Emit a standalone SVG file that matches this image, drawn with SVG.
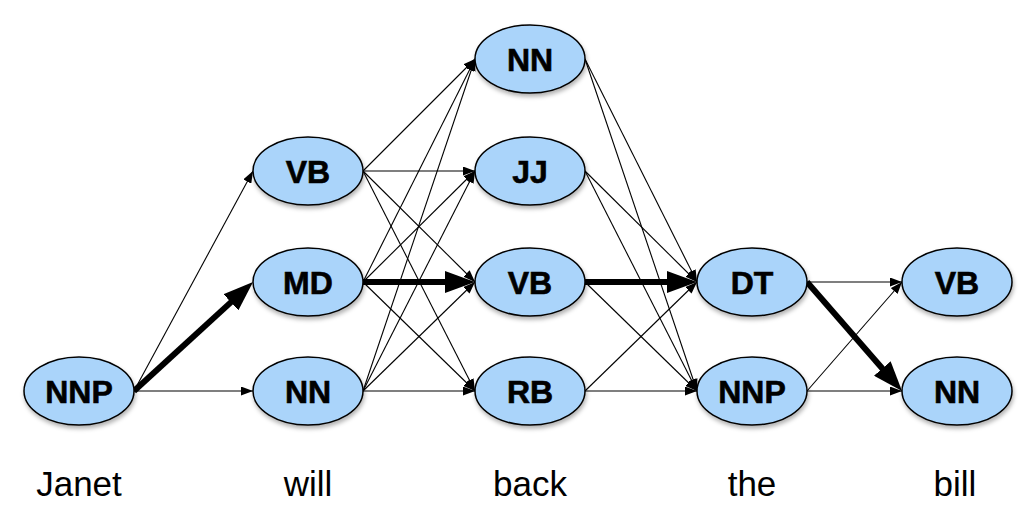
<svg xmlns="http://www.w3.org/2000/svg" width="1028" height="518" viewBox="0 0 1028 518">
  <style>
    .node ellipse { fill: #aad4fa; stroke: #000; stroke-width: 1.5; filter: url(#shadow); }
    .node text { font-family: "Liberation Sans", Arial, sans-serif; font-weight: bold; font-size: 32px; text-anchor: middle; fill: #000; stroke: #000; stroke-width: 0.6; }
    .edge { stroke: #000; stroke-width: 1.1; fill: none; marker-end: url(#head); }
    .best { stroke: #000; stroke-width: 6; fill: none; marker-end: url(#bighead); }
    .word { font-family: "Liberation Sans", Arial, sans-serif; font-size: 35px; text-anchor: middle; fill: #000; }
  </style>
  <defs>
    <filter id="shadow" x="-20%" y="-20%" width="140%" height="150%">
      <feDropShadow dx="1" dy="3" stdDeviation="2" flood-color="#000" flood-opacity="0.3"/>
    </filter>
    <marker id="head" markerUnits="userSpaceOnUse" markerWidth="12" markerHeight="9" refX="12" refY="4.5" orient="auto">
      <path d="M0,0 L12,4.5 L0,9 z" fill="#000"/>
    </marker>
    <marker id="bighead" markerUnits="userSpaceOnUse" markerWidth="30" markerHeight="22" refX="5" refY="11" orient="auto">
      <path d="M0,0 L30,11 L0,22 z" fill="#000"/>
    </marker>
  </defs>

  <rect width="1028" height="518" fill="#fff"/>

  <g id="connectors">
    <!-- Janet -> will -->
    <line class="edge" x1="134" y1="391" x2="253" y2="171"/>
    <line class="best" x1="134" y1="391" x2="234.6" y2="298.9"/>
    <line class="edge" x1="134" y1="391" x2="253" y2="391"/>
    <!-- will -> back -->
    <line class="edge" x1="363" y1="171" x2="475" y2="59"/>
    <line class="edge" x1="363" y1="171" x2="475" y2="171"/>
    <line class="edge" x1="363" y1="171" x2="475" y2="282"/>
    <line class="edge" x1="363" y1="171" x2="475" y2="391"/>
    <line class="edge" x1="363" y1="282" x2="475" y2="59"/>
    <line class="edge" x1="363" y1="282" x2="475" y2="171"/>
    <line class="best" x1="363" y1="282" x2="450" y2="282"/>
    <line class="edge" x1="363" y1="282" x2="475" y2="391"/>
    <line class="edge" x1="363" y1="391" x2="475" y2="59"/>
    <line class="edge" x1="363" y1="391" x2="475" y2="171"/>
    <line class="edge" x1="363" y1="391" x2="475" y2="282"/>
    <line class="edge" x1="363" y1="391" x2="475" y2="391"/>
    <!-- back -> the -->
    <line class="edge" x1="585" y1="59" x2="697" y2="282"/>
    <line class="edge" x1="585" y1="59" x2="697" y2="391"/>
    <line class="edge" x1="585" y1="171" x2="697" y2="282"/>
    <line class="edge" x1="585" y1="171" x2="697" y2="391"/>
    <line class="best" x1="585" y1="282" x2="672" y2="282"/>
    <line class="edge" x1="585" y1="282" x2="697" y2="391"/>
    <line class="edge" x1="585" y1="391" x2="697" y2="282"/>
    <line class="edge" x1="585" y1="391" x2="697" y2="391"/>
    <!-- the -> bill -->
    <line class="edge" x1="807" y1="282" x2="902" y2="282"/>
    <line class="best" x1="807" y1="282" x2="885.6" y2="372.2"/>
    <line class="edge" x1="807" y1="391" x2="902" y2="282"/>
    <line class="edge" x1="807" y1="391" x2="902" y2="391"/>
  </g>

  <g id="janet-nnp" class="node"><ellipse cx="79" cy="391" rx="55" ry="34"/><text x="79" y="403">NNP</text></g>

  <g id="will-vb" class="node"><ellipse cx="308" cy="171" rx="55" ry="34"/><text x="308" y="183">VB</text></g>
  <g id="will-md" class="node"><ellipse cx="308" cy="282" rx="55" ry="34"/><text x="308" y="294">MD</text></g>
  <g id="will-nn" class="node"><ellipse cx="308" cy="391" rx="55" ry="34"/><text x="308" y="403">NN</text></g>

  <g id="back-nn" class="node"><ellipse cx="530" cy="59" rx="55" ry="34"/><text x="530" y="71">NN</text></g>
  <g id="back-jj" class="node"><ellipse cx="530" cy="171" rx="55" ry="34"/><text x="530" y="183">JJ</text></g>
  <g id="back-vb" class="node"><ellipse cx="530" cy="282" rx="55" ry="34"/><text x="530" y="294">VB</text></g>
  <g id="back-rb" class="node"><ellipse cx="530" cy="391" rx="55" ry="34"/><text x="530" y="403">RB</text></g>

  <g id="the-dt" class="node"><ellipse cx="752" cy="282" rx="55" ry="34"/><text x="752" y="294">DT</text></g>
  <g id="the-nnp" class="node"><ellipse cx="752" cy="391" rx="55" ry="34"/><text x="752" y="403">NNP</text></g>

  <g id="bill-vb" class="node"><ellipse cx="957" cy="282" rx="55" ry="34"/><text x="957" y="294">VB</text></g>
  <g id="bill-nn" class="node"><ellipse cx="957" cy="391" rx="55" ry="34"/><text x="957" y="403">NN</text></g>

  <g id="words">
    <text class="word" x="79" y="496">Janet</text>
    <text class="word" x="308" y="496">will</text>
    <text class="word" x="530" y="496">back</text>
    <text class="word" x="752" y="496">the</text>
    <text class="word" x="955" y="496">bill</text>
  </g>
</svg>
